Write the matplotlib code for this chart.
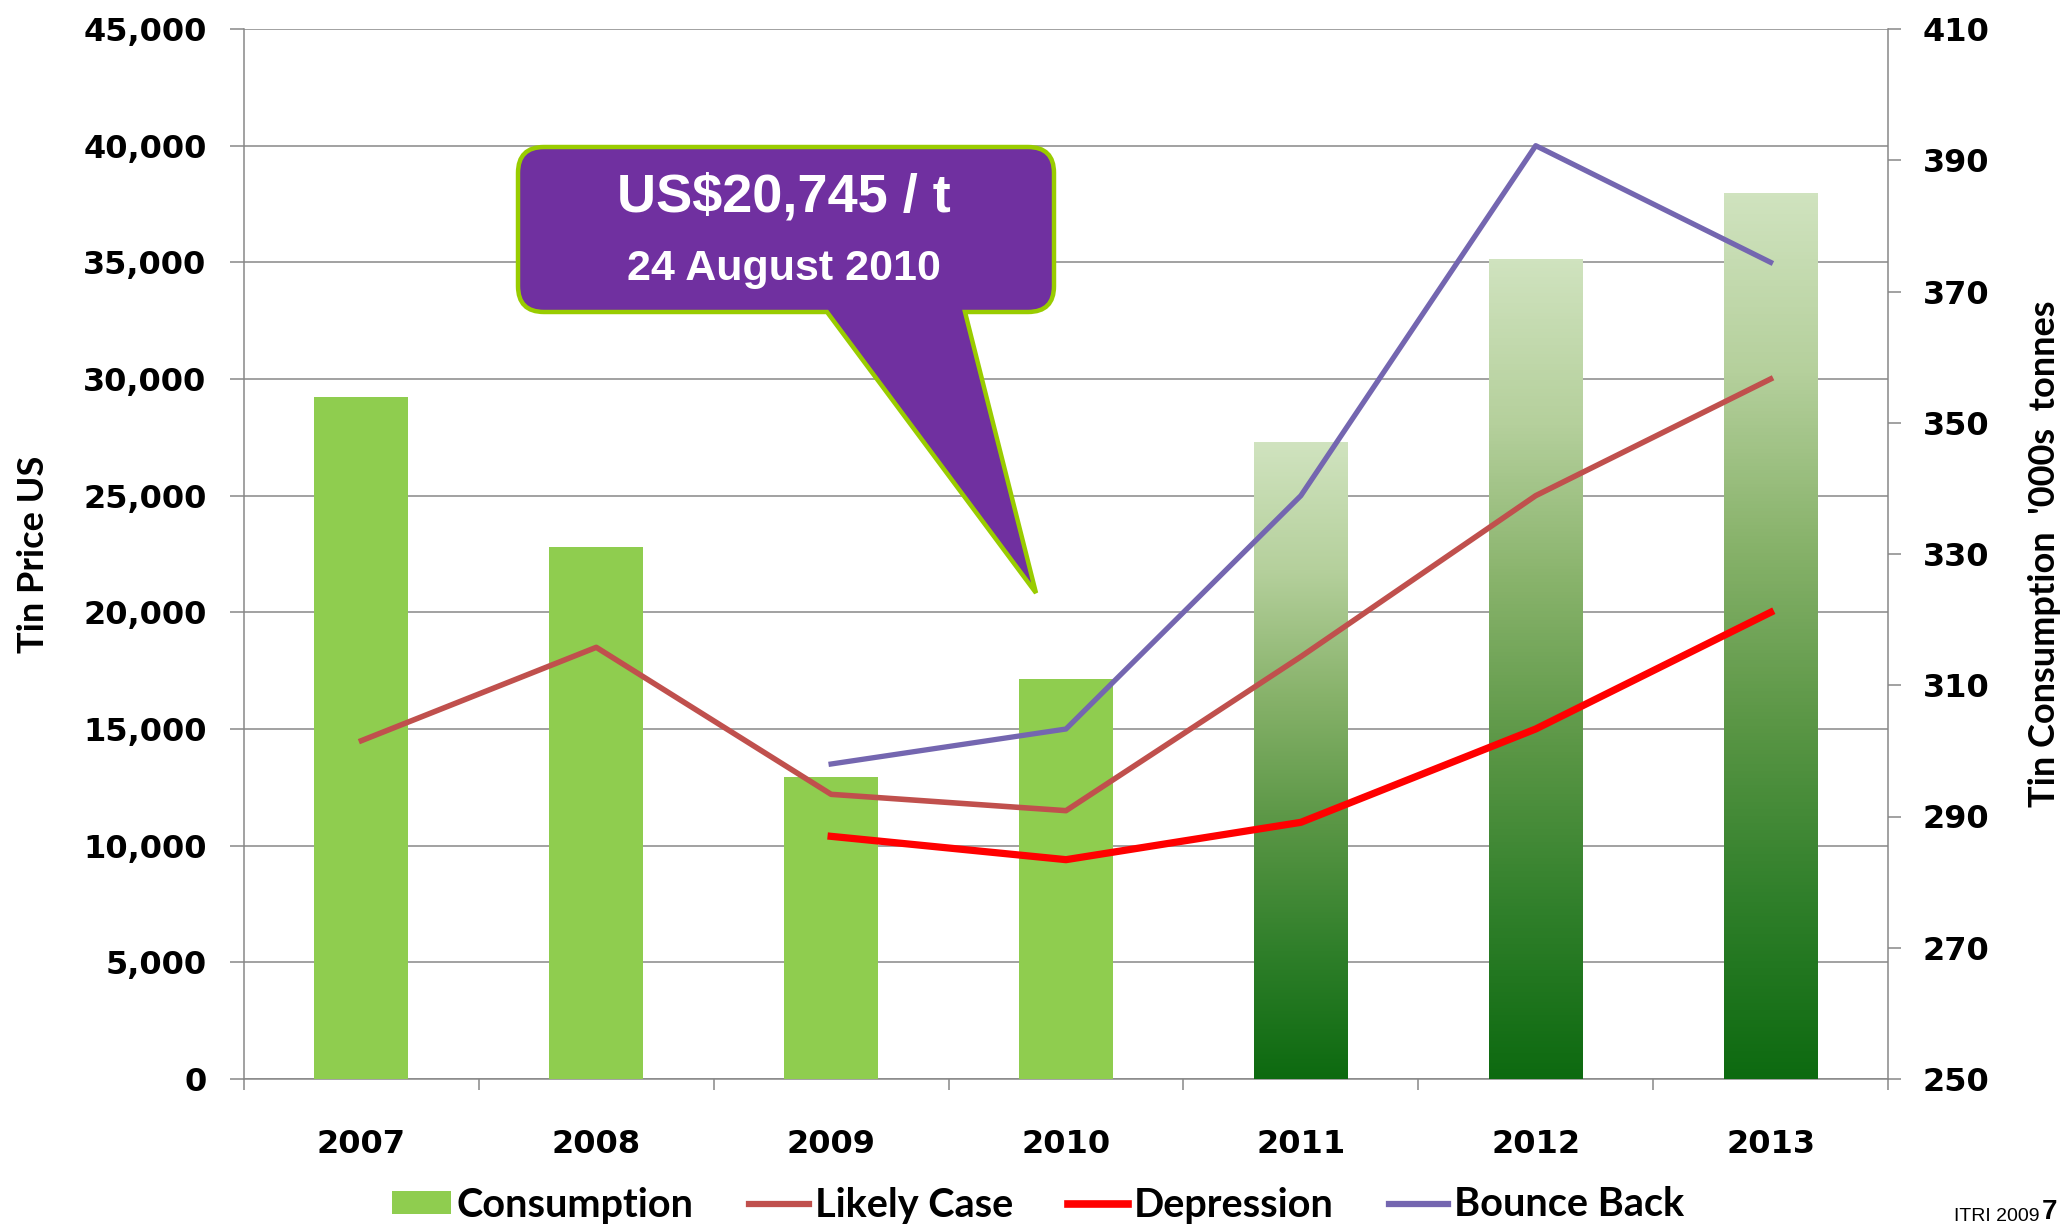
import numpy as np
import matplotlib
matplotlib.use("Agg")
import matplotlib.pyplot as plt
from matplotlib.path import Path
from matplotlib.patches import PathPatch, Patch
from matplotlib.lines import Line2D
from matplotlib.colors import LinearSegmentedColormap

# data
years = ['2007', '2008', '2009', '2010', '2011', '2012', '2013']
consumption = [354, 331, 296, 311, 347, 375, 385]          # '000s tonnes (right axis)
forecast = [False, False, False, False, True, True, True]  # gradient bars
likely_case = [14500, 18500, 12200, 11500, 18100, 25000, 30000]
depression = [np.nan, np.nan, 10400, 9400, 11000, 15000, 20000]
bounce_back = [np.nan, np.nan, 13500, 15000, 25000, 40000, 35000]

price_ticks = list(range(0, 45001, 5000))
cons_ticks = list(range(250, 411, 20))

GRID = '#878787'
BAR_GREEN = '#8fcd4f'
TICK_FONT = dict(family='DejaVu Sans', weight='bold', size=23)
LABEL_FONT = dict(family=['Lato', 'DejaVu Sans'], weight='bold', size=26)

fig = plt.figure(figsize=(20.65, 12.26), dpi=100)
fig.patch.set_facecolor('white')

# axes: price grid (bottom), bars (twin), lines (twin on top)
ax = fig.add_axes([244 / 2065, 1 - 1079 / 1226, (1888 - 244) / 2065, (1079 - 29) / 1226])
axb = ax.twinx()
axl = ax.twinx()

x = np.arange(len(years)) + 0.5

# left axis / grid
ax.set_xlim(0, len(years))
ax.set_ylim(0, 45000)
ax.set_yticks(price_ticks)
ax.set_yticklabels([f'{v:,}' for v in price_ticks], fontdict=TICK_FONT)
ax.yaxis.grid(True, color=GRID, linewidth=1.1)
ax.set_axisbelow(True)
ax.tick_params(axis='y', length=10, width=1.1, color=GRID, pad=17)
ax.set_xticks(x)
ax.set_xticklabels(years, fontdict=TICK_FONT)
ax.set_xticks(np.arange(len(years) + 1), minor=True)
ax.tick_params(axis='x', which='major', length=0, pad=36)
ax.tick_params(axis='x', which='minor', length=8, width=1.1, color=GRID)
for s in ['top', 'right']:
    ax.spines[s].set_visible(False)
for s in ['left', 'bottom']:
    ax.spines[s].set_color(GRID)
    ax.spines[s].set_linewidth(1.1)
ax.set_ylabel('Tin Price US', fontdict=LABEL_FONT, labelpad=24)

# consumption bars on right axis
axb.set_ylim(250, 410)
bars = axb.bar(x, consumption, width=0.4, color=BAR_GREEN, zorder=2)
grad_cmap = LinearSegmentedColormap.from_list(
    'grad', ['#0d6a10', '#2f7f2a', '#5a9645', '#87b26a', '#b5d09c', '#d0e3bf'])
grad = np.linspace(1, 0, 256).reshape(-1, 1)
y0 = axb.get_ylim()[0]
for rect, val, is_fc in zip(bars, consumption, forecast):
    if not is_fc:
        continue
    rect.set_facecolor('none')
    rect.set_edgecolor('none')
    bx = rect.get_x()
    im = axb.imshow(grad, cmap=grad_cmap, aspect='auto', zorder=2,
                    extent=(bx, bx + rect.get_width(), y0, val), vmin=0, vmax=1)
    im.set_clip_path(rect)
axb.set_xlim(0, len(years))
axb.set_ylim(250, 410)
axb.set_yticks(cons_ticks)
axb.set_yticklabels([str(v) for v in cons_ticks], fontdict=TICK_FONT)
axb.tick_params(axis='y', length=9, width=1.1, color=GRID, pad=16)
for s in ['top', 'left', 'bottom']:
    axb.spines[s].set_visible(False)
axb.spines['right'].set_color(GRID)
axb.spines['right'].set_linewidth(1.1)
axb.set_ylabel("Tin Consumption  '000s  tonnes", fontdict=LABEL_FONT, labelpad=28)

# scenario lines
axl.set_ylim(0, 45000)
axl.set_xlim(0, len(years))
axl.plot(x, likely_case, color='#c0504d', lw=4.0, solid_joinstyle='round')
axl.plot(x, depression, color='#ff0000', lw=5.2, solid_joinstyle='round')
axl.plot(x, bounce_back, color='#7466b0', lw=3.8, solid_joinstyle='round')
axl.axis('off')

# legend
handles = [
    Patch(facecolor=BAR_GREEN, edgecolor='none'),
    Line2D([], [], color='#c0504d', lw=4.5),
    Line2D([], [], color='#ff0000', lw=5.5),
    Line2D([], [], color='#7466b0', lw=4.5),
]
fig.legend(handles, ['Consumption', 'Likely Case', 'Depression', 'Bounce Back'],
           loc='center', bbox_to_anchor=(1038 / 2065, 1 - 1205 / 1226), ncol=4,
           frameon=False, prop=dict(family=['Lato', 'DejaVu Sans'], weight='bold', size=28.5),
           handlelength=1.5, handleheight=0.55, handletextpad=0.15, columnspacing=1.4,
           borderpad=0, borderaxespad=0)

# callout (figure pixel space, y down)
ov = fig.add_axes([0, 0, 1, 1], zorder=10)
ov.set_xlim(0, 2065)
ov.set_ylim(1226, 0)
ov.axis('off')
L, R, T, B, r = 518, 1054, 147, 312, 26
tip = (1036, 593)
verts = [
    (L + r, T), (R - r, T), (R, T), (R, T + r), (R, B - r), (R, B), (R - r, B),
    (965, B), tip, (827, B),
    (L + r, B), (L, B), (L, B - r), (L, T + r), (L, T), (L + r, T), (L + r, T),
]
codes = [Path.MOVETO, Path.LINETO, Path.CURVE3, Path.CURVE3, Path.LINETO, Path.CURVE3, Path.CURVE3,
         Path.LINETO, Path.LINETO, Path.LINETO,
         Path.LINETO, Path.CURVE3, Path.CURVE3, Path.LINETO, Path.CURVE3, Path.CURVE3, Path.CLOSEPOLY]
ov.add_patch(PathPatch(Path(verts, codes), facecolor='#7030a0', edgecolor='#99cc00', lw=3.2))
ov.text(784, 197, 'US$20,745 / t', color='white', ha='center', va='center',
        family='Liberation Sans', weight='bold', size=39)
ov.text(784, 269, '24 August 2010', color='white', ha='center', va='center',
        family='Liberation Sans', weight='bold', size=31)

# slide footer
ov.text(2040, 1225, 'ITRI 2009', ha='right', va='bottom', family='Liberation Sans', size=14)
ov.text(2042, 1225, '7', ha='left', va='bottom', family='Liberation Sans', weight='bold', size=20)

fig.savefig('out.png', dpi=100, facecolor='white')
